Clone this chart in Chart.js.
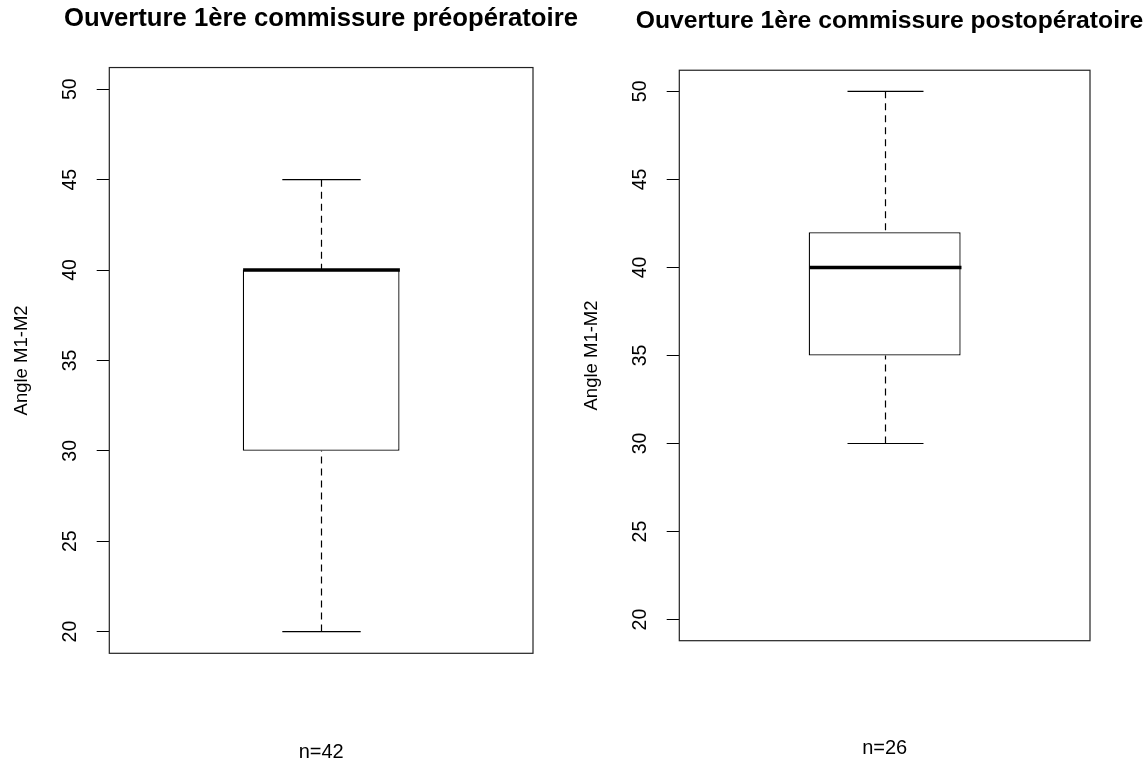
<!DOCTYPE html>
<html>
<head>
<meta charset="utf-8">
<script src="https://cdn.jsdelivr.net/npm/chart.js@4.4.1/dist/chart.umd.min.js"></script>
<style>
  body { margin: 0; background: #fff; }
  #wrap { position: relative; width: 1145px; height: 772px; overflow: hidden; }
  canvas { position: absolute; top: 0; }
</style>
</head>
<body>
<div id="wrap">
  <canvas id="pre" width="642" height="772" style="left:0"></canvas>
  <canvas id="post" width="639" height="772" style="left:570px"></canvas>
</div>
<script>
// values
const titles = ['Ouverture 1ère commissure préopératoire', 'Ouverture 1ère commissure postopératoire'];
const yLabel = 'Angle M1-M2';
const nLabels = ['n=42', 'n=26'];
const yTicks = [20, 25, 30, 35, 40, 45, 50];
const yRange = [18.8, 51.2];
// min, Q1, median, Q3, max
const preStats = [20, 30, 40, 40, 45];
const postStats = [30, 35, 40, 42, 50];

const FONT = 'Liberation Sans, Arial, Helvetica, sans-serif';

// whiskers, caps, median and the frame, placed with the chart's own scales
const boxParts = {
  id: 'boxParts',
  afterDatasetsDraw(chart, args, opts) {
    const { ctx, chartArea: a, scales: { y } } = chart;
    const s = opts.stats;
    const bar = chart.getDatasetMeta(0).data[0];
    const cx = Math.round(bar.x) + 0.5;
    const half = bar.width / 2;
    const py = v => y.getPixelForValue(v);
    ctx.save();
    ctx.strokeStyle = '#000';
    ctx.lineWidth = 1.2;
    ctx.setLineDash([7, 5]);
    ctx.beginPath();
    ctx.moveTo(cx, py(s[4])); ctx.lineTo(cx, py(s[3]));
    ctx.moveTo(cx, py(s[0])); ctx.lineTo(cx, py(s[1]));
    ctx.stroke();
    ctx.setLineDash([]);
    ctx.beginPath();
    ctx.moveTo(cx - half / 2, py(s[4])); ctx.lineTo(cx + half / 2, py(s[4]));
    ctx.moveTo(cx - half / 2, py(s[0])); ctx.lineTo(cx + half / 2, py(s[0]));
    ctx.stroke();
    ctx.lineWidth = 3.5;
    ctx.beginPath();
    ctx.moveTo(cx - half, py(s[2])); ctx.lineTo(cx + half, py(s[2]));
    ctx.stroke();
    ctx.lineWidth = 1.2;
    ctx.strokeStyle = '#222';
    ctx.strokeRect(a.left, a.top, a.width, a.height);
    ctx.restore();
  }
};

function makeChart(id, stats, title, nLabel, g) {
  return new Chart(document.getElementById(id), {
    type: 'bar',
    data: {
      labels: [''],
      datasets: [{
        data: [[stats[1], stats[3]]],
        backgroundColor: '#fff',
        borderColor: '#000',
        borderWidth: 1.3,
        borderSkipped: false,
        barPercentage: 0.37,
        categoryPercentage: 1
      }]
    },
    options: {
      responsive: false,
      animation: false,
      plugins: {
        legend: { display: false },
        tooltip: { enabled: false },
        title: {
          display: true,
          text: title,
          color: '#000',
          font: { family: FONT, size: g.tSize, weight: 'bold' },
          padding: { top: g.tTop, bottom: g.tBottom }
        },
        boxParts: { stats: stats }
      },
      scales: {
        x: {
          grid: { display: false },
          border: { display: false },
          ticks: { display: false },
          title: {
            display: true,
            text: nLabel,
            color: '#000',
            font: { family: FONT, size: 20 },
            padding: { top: 0, bottom: g.nBottom }
          },
          afterFit: s => { s.height = g.xH; }
        },
        y: {
          min: yRange[0],
          max: yRange[1],
          afterBuildTicks: s => { s.ticks = yTicks.map(v => ({ value: v })); },
          ticks: {
            color: '#000',
            font: { family: FONT, size: 19.5 },
            minRotation: 90,
            maxRotation: 90,
            crossAlign: 'center',
            padding: 15
          },
          grid: { drawOnChartArea: false, drawTicks: true, tickLength: 12.6, color: '#000', lineWidth: 1 },
          border: { display: false },
          title: {
            display: true,
            text: yLabel,
            color: '#000',
            font: { family: FONT, size: 18.5 },
            padding: { top: 10.6, bottom: 0 }
          },
          afterFit: s => { s.width = 109.3; }
        },
        // empty right margin so the title sits where it does in the reference
        side: {
          position: 'right',
          grid: { display: false },
          border: { display: false },
          ticks: { display: false },
          afterFit: s => { s.width = g.side; }
        }
      }
    },
    plugins: [boxParts]
  });
}

makeChart('pre', preStats, titles[0], nLabels[0], { tSize: 25.7, tTop: 3.3, tBottom: 33.4, xH: 118.7, nBottom: 8, side: 109 });
makeChart('post', postStats, titles[1], nLabels[1], { tSize: 24.7, tTop: 6.8, tBottom: 33.8, xH: 131.3, nBottom: 12, side: 119 });
</script>
</body>
</html>
